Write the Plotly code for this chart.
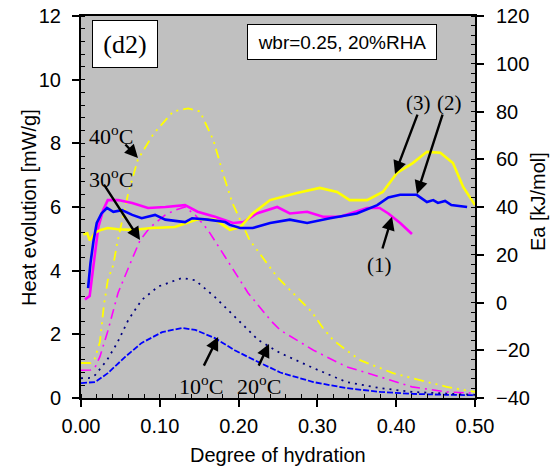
import plotly.graph_objects as go

# ---------------- data ----------------
# Heat evolution [mW/g] (left axis) vs degree of hydration
x_10c = [0, 0.012, 0.018, 0.034, 0.056, 0.077, 0.103, 0.128, 0.145, 0.17, 0.195, 0.22, 0.242, 0.253, 0.295, 0.337, 0.38, 0.42, 0.464, 0.5]
h_10c = [0.47, 0.48, 0.5, 0.78, 1.29, 1.73, 2.07, 2.2, 2.14, 1.88, 1.5, 1.19, 0.93, 0.8, 0.5, 0.31, 0.19, 0.13, 0.1, 0.09]

x_20c = [0, 0.012, 0.018, 0.033, 0.046, 0.06, 0.077, 0.098, 0.128, 0.145, 0.17, 0.195, 0.225, 0.253, 0.295, 0.337, 0.38, 0.42, 0.464, 0.5]
h_20c = [0.62, 0.63, 0.72, 1.19, 1.73, 2.45, 3.08, 3.5, 3.77, 3.7, 3.17, 2.55, 1.82, 1.41, 0.94, 0.5, 0.31, 0.19, 0.13, 0.1]

x_30c = [0, 0.012, 0.018, 0.024, 0.034, 0.047, 0.062, 0.075, 0.088, 0.107, 0.119, 0.132, 0.145, 0.161, 0.183, 0.19, 0.212, 0.242, 0.253, 0.295, 0.337, 0.38, 0.42, 0.464, 0.5]
h_30c = [0.87, 0.88, 0.97, 1.3, 2.1, 3.3, 4.2, 4.96, 5.37, 5.75, 5.9, 6.0, 5.75, 5.28, 4.43, 4.15, 3.3, 2.4, 2.13, 1.5, 0.98, 0.66, 0.35, 0.19, 0.15]

x_40c = [0, 0.012, 0.017, 0.024, 0.029, 0.034, 0.041, 0.046, 0.06, 0.072, 0.092, 0.117, 0.136, 0.151, 0.168, 0.18, 0.192, 0.214, 0.249, 0.293, 0.307, 0.32, 0.337, 0.354, 0.396, 0.43, 0.464, 0.5]
h_40c = [1.1, 1.1, 1.2, 1.76, 2.9, 3.7, 4.18, 4.87, 6.44, 7.48, 8.3, 9.0, 9.1, 9.0, 8.1, 7.07, 6.13, 4.96, 3.8, 2.7, 2.2, 1.82, 1.5, 1.19, 0.78, 0.57, 0.35, 0.19]

# Activation energy Ea [kJ/mol] (right axis)
x_ea1 = [0.005, 0.011, 0.016, 0.022, 0.028, 0.034, 0.047, 0.065, 0.085, 0.107, 0.132, 0.148, 0.17, 0.193, 0.206, 0.223, 0.249, 0.265, 0.287, 0.307, 0.329, 0.35, 0.363, 0.379, 0.39, 0.405, 0.42]
ea_1 = [1.3, 2.7, 16.0, 31.6, 38.7, 42.9, 42.9, 41.7, 39.6, 40.0, 40.8, 38.0, 35.9, 33.3, 33.7, 37.3, 40.0, 37.3, 38.0, 35.9, 35.9, 38.0, 39.6, 39.6, 37.3, 33.3, 28.7]

x_ea2 = [0.009, 0.012, 0.016, 0.02, 0.026, 0.033, 0.041, 0.052, 0.065, 0.077, 0.094, 0.107, 0.132, 0.141, 0.161, 0.183, 0.189, 0.202, 0.218, 0.24, 0.265, 0.287, 0.316, 0.35, 0.376, 0.39, 0.405, 0.426, 0.439, 0.447, 0.453, 0.462, 0.47, 0.49]
ea_2 = [6.0, 16.5, 26.1, 33.3, 37.3, 39.6, 38.0, 38.7, 36.7, 35.3, 36.7, 34.7, 33.7, 35.3, 34.7, 33.7, 32.5, 31.2, 31.2, 33.3, 34.7, 33.3, 35.3, 37.3, 40.8, 44.0, 45.1, 45.1, 42.1, 42.9, 41.7, 42.5, 40.8, 40.0]

x_ea3 = [0.003, 0.008, 0.011, 0.018, 0.026, 0.034, 0.047, 0.065, 0.09, 0.119, 0.148, 0.17, 0.189, 0.202, 0.218, 0.24, 0.274, 0.303, 0.325, 0.341, 0.363, 0.383, 0.401, 0.421, 0.439, 0.456, 0.472, 0.485, 0.5]
ea_3 = [28.5, 29.0, 26.0, 29.3, 30.5, 31.2, 30.7, 30.4, 31.2, 31.6, 34.9, 34.7, 30.4, 31.6, 37.3, 42.9, 45.9, 48.0, 46.3, 42.9, 42.9, 46.3, 54.3, 58.4, 63.1, 62.7, 58.4, 48.4, 40.8]

x_ticks = [0.0, 0.1, 0.2, 0.3, 0.4, 0.5]
x_ticklabels = ["0.00", "0.10", "0.20", "0.30", "0.40", "0.50"]

SANS = "Liberation Sans, Arial, sans-serif"
SERIF = "Liberation Serif, Times New Roman, serif"

fig = go.Figure()

# heat evolution curves
fig.add_trace(go.Scatter(x=x_10c, y=h_10c, mode="lines", line=dict(color="#0000FF", width=1.8, dash="6px,2px"), yaxis="y"))
fig.add_trace(go.Scatter(x=x_20c, y=h_20c, mode="lines", line=dict(color="#000080", width=1.8, dash="2px,5px"), yaxis="y"))
fig.add_trace(go.Scatter(x=x_30c, y=h_30c, mode="lines", line=dict(color="#FF00FF", width=1.6, dash="10px,5px,2px,5px"), yaxis="y"))
fig.add_trace(go.Scatter(x=x_40c, y=h_40c, mode="lines", line=dict(color="#FFFF00", width=1.8, dash="10px,5px,2px,5px,2px,5px"), yaxis="y"))

# Ea curves
fig.add_trace(go.Scatter(x=x_ea1, y=ea_1, mode="lines", line=dict(color="#FF00FF", width=2.6), yaxis="y2"))
fig.add_trace(go.Scatter(x=x_ea3, y=ea_3, mode="lines", line=dict(color="#FFFF00", width=2.6), yaxis="y2"))
fig.add_trace(go.Scatter(x=x_ea2, y=ea_2, mode="lines", line=dict(color="#0000FF", width=2.6), yaxis="y2"))

annotations = []

def arrow(x_head, y_head, x_tail, y_tail):
    annotations.append(dict(
        x=x_head, y=y_head, ax=x_tail, ay=y_tail, xref="x", yref="y", axref="x", ayref="y",
        text="", showarrow=True, arrowhead=2, arrowsize=1.1, arrowwidth=2.4, arrowcolor="black", standoff=0,
    ))

def label(x, y, text, size=21):
    annotations.append(dict(
        x=x, y=y, xref="x", yref="y", text=text, showarrow=False,
        font=dict(family=SERIF, size=size, color="black"), xanchor="center", yanchor="middle",
    ))

arrow(0.0723, 7.54, 0.0546, 8.01)
arrow(0.0749, 4.96, 0.0279, 6.75)
arrow(0.174, 1.92, 0.155, 0.97)
arrow(0.2386, 1.70, 0.2246, 0.97)
arrow(0.3947, 5.69, 0.382, 4.65)
arrow(0.3985, 7.04, 0.4277, 8.95)
arrow(0.4264, 6.41, 0.4594, 8.95)

label(0.038, 8.26, "40<sup>o</sup>C", 22)
label(0.038, 6.91, "30<sup>o</sup>C", 22)
label(0.152, 0.41, "10<sup>o</sup>C", 22)
label(0.226, 0.41, "20<sup>o</sup>C", 22)
label(0.379, 4.18, "(1)", 21)
label(0.4277, 9.27, "(3)", 21)
label(0.468, 9.27, "(2)", 21)

annotations.append(dict(
    x=0.112, y=0.927, xref="paper", yref="paper", text="(d2)", showarrow=False,
    font=dict(family=SERIF, size=26, color="black"), bgcolor="white", bordercolor="black",
    borderwidth=1, width=62, height=44, xanchor="center", yanchor="middle",
))
annotations.append(dict(
    x=0.662, y=0.932, xref="paper", yref="paper", text="wbr=0.25, 20%RHA", showarrow=False,
    font=dict(family=SANS, size=19, color="black"), bgcolor="white", bordercolor="black",
    borderwidth=1, width=186, height=32, xanchor="center", yanchor="middle",
))

# axis titles (placed precisely)
annotations.append(dict(
    x=-0.132, y=0.5, xref="paper", yref="paper", text="Heat evolution [mW/g]", textangle=-90,
    showarrow=False, font=dict(family=SANS, size=20, color="black"), xanchor="center", yanchor="middle",
))
annotations.append(dict(
    x=1.16, y=0.513, xref="paper", yref="paper", text="Ea [kJ/mol]", textangle=-90,
    showarrow=False, font=dict(family=SANS, size=20, color="black"), xanchor="center", yanchor="middle",
))
annotations.append(dict(
    x=0.5, y=-0.149, xref="paper", yref="paper", text="Degree of hydration",
    showarrow=False, font=dict(family=SANS, size=20, color="black"), xanchor="center", yanchor="middle",
))

fig.update_layout(
    width=560, height=468,
    margin=dict(l=81, r=85, t=16, b=70, autoexpand=False),
    plot_bgcolor="#C0C0C0", paper_bgcolor="white",
    showlegend=False,
    font=dict(family=SANS, size=20, color="black"),
    annotations=annotations,
    xaxis=dict(
        range=[0, 0.5], tickvals=x_ticks, ticktext=x_ticklabels, automargin=False,
        showline=True, linecolor="black", linewidth=2, mirror=True,
        ticks="outside", ticklen=7, tickwidth=2, tickcolor="black", ticklabelstandoff=2,
        minor=dict(ticks="inside", ticklen=4, dtick=0.02, tickwidth=1, tickcolor="black", showgrid=False),
        showgrid=False, zeroline=False,
        tickfont=dict(family=SANS, size=20),
    ),
    yaxis=dict(
        range=[0, 12], dtick=2, automargin=False,
        showline=True, linecolor="black", linewidth=2,
        ticks="outside", ticklen=7, tickwidth=2, tickcolor="black", ticklabelstandoff=7,
        ticklabeloverflow="allow",
        minor=dict(ticks="inside", ticklen=4, dtick=0.4, tickwidth=1, tickcolor="black", showgrid=False),
        showgrid=False, zeroline=False,
        tickfont=dict(family=SANS, size=20),
    ),
    yaxis2=dict(
        range=[-40, 120], dtick=20, overlaying="y", side="right", anchor="x", automargin=False,
        showline=True, linecolor="black", linewidth=2,
        ticks="outside", ticklen=7, tickwidth=2, tickcolor="black", ticklabelstandoff=8,
        ticklabeloverflow="allow",
        minor=dict(ticks="inside", ticklen=4, dtick=4, tickwidth=1, tickcolor="black", showgrid=False),
        showgrid=False, zeroline=False,
        tickfont=dict(family=SANS, size=20),
    ),
)

fig.write_html(
    "out.html",
    config={"displayModeBar": False},
    post_script="document.body.style.margin='0px';",
)
